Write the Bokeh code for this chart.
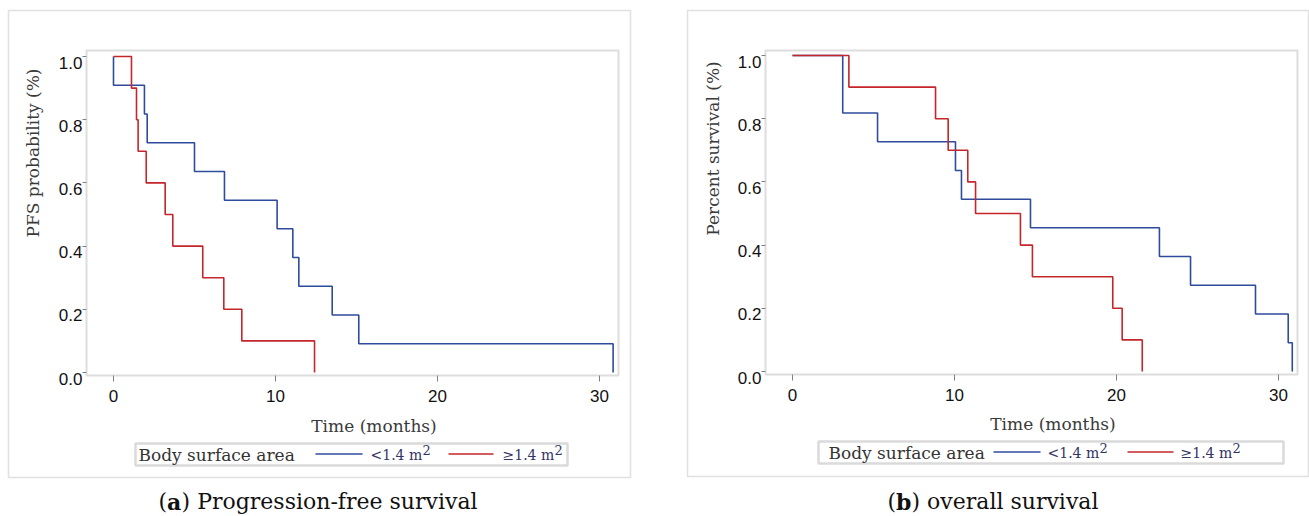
import math
from bokeh.plotting import figure
from bokeh.models import (Range1d, LinearAxis, FixedTicker, PrintfTickFormatter,
                          Label, BoxAnnotation, Arrow, CustomLabelingPolicy)
from bokeh.layouts import row
from bokeh.embed import file_html
from bokeh.resources import INLINE

# ---------------- data ----------------
x_ticks = [0, 10, 20, 30]
y_ticks = [0.0, 0.2, 0.4, 0.6, 0.8, 1.0]

# (a) Progression-free survival
pfs_small_t = [0, 0, 1.91, 2.08, 5.0, 6.85, 10.1, 11.07, 11.44, 13.5, 15.14, 30.84]
pfs_small_s = [1.0, 0.909, 0.818, 0.727, 0.636, 0.545, 0.455, 0.364, 0.273, 0.182, 0.091, 0.0]
pfs_large_t = [0, 1.11, 1.42, 1.52, 2.02, 3.19, 3.66, 5.51, 6.81, 7.92, 12.41]
pfs_large_s = [1.0, 0.9, 0.8, 0.7, 0.6, 0.5, 0.4, 0.3, 0.2, 0.1, 0.0]

# (b) overall survival
os_small_t = [0, 3.1, 5.25, 10.06, 10.43, 14.69, 22.65, 24.57, 28.58, 30.6, 30.85]
os_small_s = [1.0, 0.818, 0.727, 0.636, 0.545, 0.455, 0.364, 0.273, 0.182, 0.091, 0.0]
os_large_t = [0, 3.48, 8.83, 9.61, 10.82, 11.3, 14.07, 14.81, 19.77, 20.35, 21.59]
os_large_s = [1.0, 0.9, 0.8, 0.7, 0.6, 0.5, 0.4, 0.3, 0.2, 0.1, 0.0]

legend_title = "Body surface area"
group_labels = ["<1.4 m", "\u22651.4 m"]
sup_text = "2"
x_title = "Time (months)"

BLUE = "#2f4b9c"
RED = "#c4262c"
SERIF = "DejaVu Serif"
SANS = "Liberation Sans"
PX_PER_MONTH = 16.2
PX_PER_UNIT = 316.0
H = 516


def make_panel(spec, small, large, ylabel, cap_letter, cap_rest):
    cx, W = spec["canvas_x"], spec["width"]
    x_zero, y_zero = spec["zero"]

    def X(px):
        return (px - x_zero) / PX_PER_MONTH

    def Y(py):
        return (y_zero - py) / PX_PER_UNIT

    p = figure(width=W, height=H, x_range=Range1d(X(cx), X(cx + W)),
               y_range=Range1d(Y(H), Y(0)), output_backend="svg", toolbar_location=None,
               x_axis_location=None, y_axis_location=None,
               min_border_left=0, min_border_right=0, min_border_top=0, min_border_bottom=0)
    p.background_fill_color = "white"
    p.border_fill_color = "white"
    p.outline_line_color = None
    p.xgrid.grid_line_color = None
    p.ygrid.grid_line_color = None

    L, R, T, B = spec["frame"]

    # x axis at the bottom of the inner plot box
    xa = LinearAxis(fixed_location=Y(B), ticker=FixedTicker(ticks=x_ticks))
    xa.axis_line_color = None
    xa.major_tick_line_color = "#808080"
    xa.major_tick_out = 6
    xa.major_tick_in = 0
    xa.minor_tick_line_color = None
    xa.major_label_text_font = SANS
    xa.major_label_text_font_size = "17px"
    xa.major_label_text_color = "#111111"
    xa.major_label_standoff = 8
    p.add_layout(xa, "below")

    # y axis ticks (labels drawn by a second axis, a little lower)
    ya = LinearAxis(fixed_location=X(L), ticker=FixedTicker(ticks=y_ticks),
                    major_label_policy=CustomLabelingPolicy(
                        code="for (const i of indices) { indices.unset(i) } return indices"))
    ya.axis_line_color = None
    ya.major_tick_line_color = "#808080"
    ya.major_tick_out = 4
    ya.major_tick_in = 0
    ya.minor_tick_line_color = None
    p.add_layout(ya, "left")

    shift = 6.0 / PX_PER_UNIT
    p.extra_y_ranges = {"lab": Range1d(Y(H) + shift, Y(0) + shift)}
    la = LinearAxis(y_range_name="lab", fixed_location=X(L), ticker=FixedTicker(ticks=y_ticks),
                    formatter=PrintfTickFormatter(format="%.1f"))
    la.axis_line_color = None
    la.major_tick_line_color = None
    la.major_tick_out = 0
    la.major_tick_in = 0
    la.minor_tick_line_color = None
    la.minor_tick_out = 0
    la.major_label_standoff = 4
    la.major_label_text_font = SANS
    la.major_label_text_font_size = "17px"
    la.major_label_text_color = "#111111"
    p.add_layout(la, "left")

    # survival curves
    p.step(small[0], small[1], mode="after", line_color=BLUE, line_width=1.6)
    p.step(large[0], large[1], mode="after", line_color=RED, line_width=1.6)

    # inner plot box
    p.add_layout(BoxAnnotation(left=X(L), right=X(R), top=Y(T), bottom=Y(B),
                               fill_alpha=0, line_color="#8e8e8e", line_width=2))
    # outer panel frame
    ox0, ox1, oy0, oy1 = spec["outer"]
    p.add_layout(BoxAnnotation(left=X(ox0), right=X(ox1), top=Y(oy0), bottom=Y(oy1),
                               fill_alpha=0, line_color="#9a9a9a", line_width=1.5))

    # axis labels
    xl_x, xl_y = spec["xlabel"]
    p.add_layout(Label(x=X(xl_x), y=Y(xl_y), text=x_title, text_font=SERIF,
                       text_font_size="17px", text_color="#3a3a3a",
                       text_align="center", text_baseline="middle"))
    yl_x, yl_y = spec["ylabel"]
    p.add_layout(Label(x=X(yl_x), y=Y(yl_y), text=ylabel, text_font=SERIF,
                       text_font_size="17px", text_color="#3a3a3a", angle=math.pi / 2,
                       text_align="center", text_baseline="middle"))

    # legend box
    lb = spec["legend"]
    bx0, bx1, by0, by1 = lb["box"]
    p.add_layout(BoxAnnotation(left=X(bx0), right=X(bx1), top=Y(by0), bottom=Y(by1),
                               fill_alpha=0, line_color="#858585", line_width=2.5))
    ly = lb["y"]
    p.add_layout(Label(x=X(lb["title_x"]), y=Y(ly), text=legend_title, text_font=SERIF,
                       text_font_size="17px", text_color="#333333",
                       text_align="left", text_baseline="middle"))
    for (sx0, sx1), tx, col, lab in zip(lb["lines"], lb["texts"], [BLUE, RED], group_labels):
        p.add_layout(Arrow(start=None, end=None, x_start=X(sx0), y_start=Y(ly - 0.5),
                           x_end=X(sx1), y_end=Y(ly - 0.5), line_color=col, line_width=1.5))
        p.add_layout(Label(x=X(tx), y=Y(ly), text=lab, text_font=SERIF,
                           text_font_size="14px", text_color="#333366",
                           text_align="left", text_baseline="middle"))
        p.add_layout(Label(x=X(tx + 52), y=Y(ly - 5), text=sup_text, text_font=SERIF,
                           text_font_size="13px", text_color="#333366",
                           text_align="left", text_baseline="middle"))

    # caption
    c_x, c_y = spec["caption"]
    p.add_layout(Label(x=X(c_x), y=Y(c_y), text="(", text_font=SERIF,
                       text_font_size="22px", text_color="#111111",
                       text_align="left", text_baseline="alphabetic"))
    p.add_layout(Label(x=X(c_x + 8.6), y=Y(c_y), text=cap_letter, text_font=SERIF,
                       text_font_size="22px", text_font_style="bold", text_color="#111111",
                       text_align="left", text_baseline="alphabetic"))
    p.add_layout(Label(x=X(c_x + 8.6 + spec["letter_w"]), y=Y(c_y), text=cap_rest,
                       text_font=SERIF, text_font_size="22px", text_color="#111111",
                       text_align="left", text_baseline="alphabetic"))
    return p


spec_a = dict(canvas_x=0, width=680, zero=(113, 372), frame=(86, 618, 50, 375),
              outer=(8, 630, 10, 477), xlabel=(373.5, 425), ylabel=(32.5, 152.5),
              legend=dict(box=(135, 567, 443, 465), y=454, title_x=138,
                          lines=[(315, 362), (448, 493)], texts=[370, 502]),
              caption=(158, 501), letter_w=14.5)
spec_b = dict(canvas_x=680, width=629, zero=(792, 371), frame=(765, 1297, 50, 374),
              outer=(687, 1308, 10, 476), xlabel=(1052.5, 423), ylabel=(712, 148),
              legend=dict(box=(818, 1283, 441, 463), y=452, title_x=828,
                          lines=[(993, 1040), (1127, 1173)], texts=[1047, 1180]),
              caption=(887, 501), letter_w=15.4)

pa = make_panel(spec_a, (pfs_small_t, pfs_small_s), (pfs_large_t, pfs_large_s),
                "PFS probability (%)", "a", ") Progression-free survival")
pb = make_panel(spec_b, (os_small_t, os_small_s), (os_large_t, os_large_s),
                "Percent survival (%)", "b", ") overall survival")

layout = row(pa, pb)
open("out.html", "w").write(file_html(layout, INLINE))
